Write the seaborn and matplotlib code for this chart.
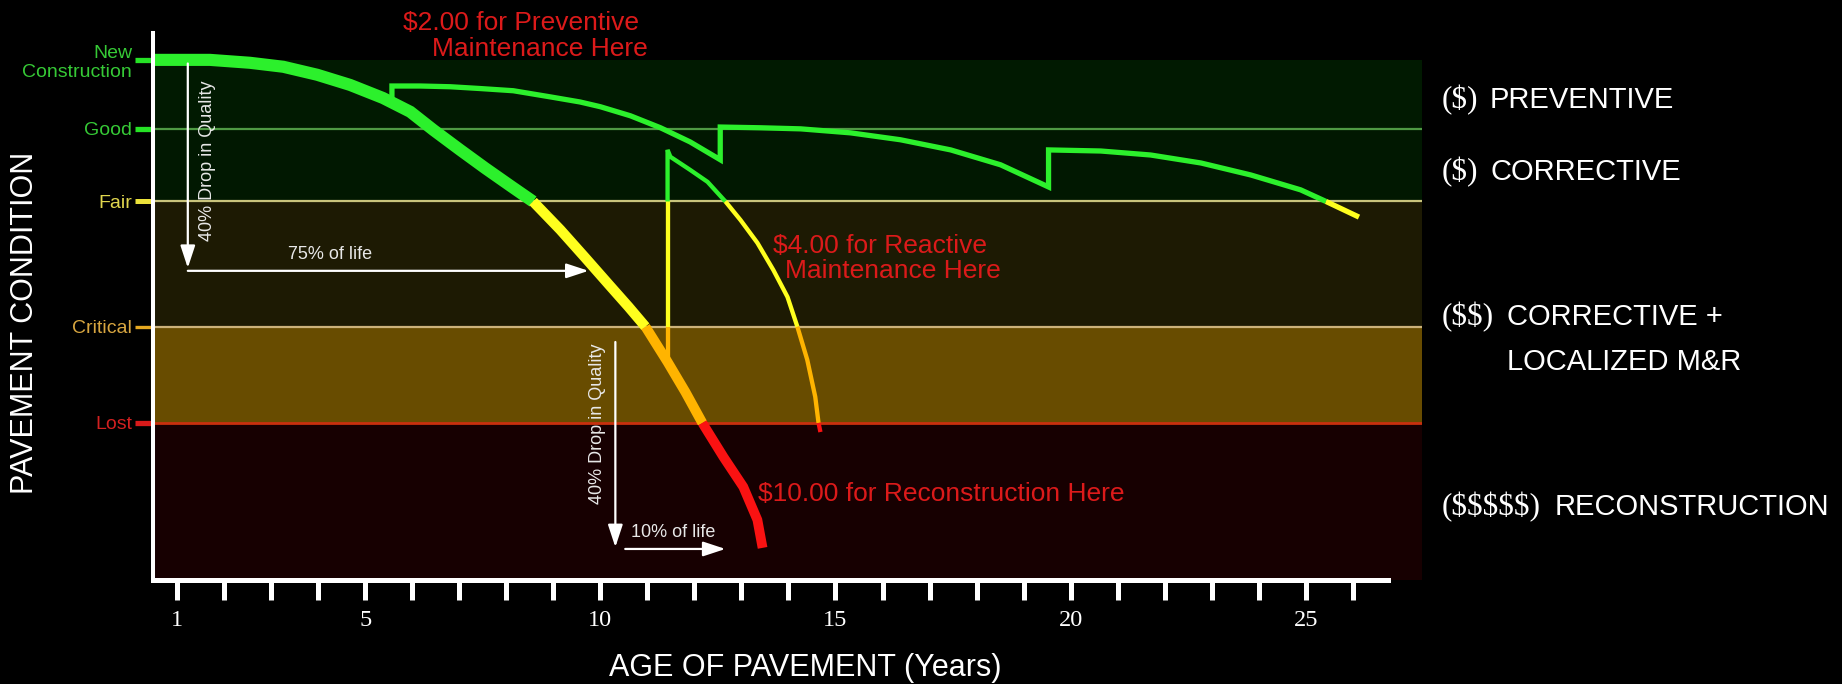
import matplotlib
matplotlib.use("Agg")
import matplotlib.pyplot as plt
import seaborn as sns

# ---------------------------------------------------------------- data
# Condition scale: New Construction = 100, Lost = 0
level_names = ["New\nConstruction", "Good", "Fair", "Critical", "Lost"]
level_values = [100, 81, 61, 26.5, 0]
level_label_colors = ["#36c936", "#36c936", "#e0d64e", "#d8a640", "#d22020"]
level_tick_colors = ["#26e226", "#26e226", "#ece23a", "#e6a820", "#d81a1a"]
level_tick_widths = [3.8, 3.8, 3.6, 2.4, 3.8]
level_line_colors = [None, "#4f9a44", "#c9c47c", "#ccb27a", "#c8300e"]

Y_MIN, Y_MAX = -43.25, 107.4
X_MIN, X_MAX = 0.49, 27.47
AXIS_END = 26.75

band_lows = [81, 61, 26.5, 0, Y_MIN]
band_highs = [100, 81, 61, 26.5, 0]
band_colors = ["#011a01", "#011801", "#1d1a03", "#684c00", "#170001"]

year_ticks = list(range(1, 27))
year_labels = [str(y) if y in (1, 5, 10, 15, 20, 25) else "" for y in year_ticks]

# Do-nothing deterioration curve
main_years = [0.5, 1.7, 2.55, 3.26, 3.98, 4.68, 5.38, 5.96, 6.45, 7.02, 7.55,
              8.09, 8.57, 9.15, 9.68, 10.21, 10.6, 10.96, 11.43, 11.81, 12.17,
              12.62, 13.04, 13.34, 13.45]
main_cond = [100, 100, 99.2, 98.1, 95.9, 93.1, 89.5, 85.7, 80.7, 75.2, 70.2,
             65.3, 61.0, 53.2, 45.5, 37.7, 32.0, 26.5, 16.8, 8.5, 0.0,
             -9.4, -17.6, -26.7, -34.4]

# Preventive treatments at roughly 5.5, 12.5 and 19.5 years
prev_years = [5.57, 5.57, 6.17, 6.81, 7.45, 8.15, 8.94, 9.57, 10.0, 10.64,
              11.28, 11.91, 12.55, 12.55, 13.4, 14.26, 15.32, 16.38, 17.45,
              18.51, 19.53, 19.53, 20.64, 21.7, 22.77, 23.83, 24.89, 25.43,
              26.13]
prev_cond = [88.3, 92.8, 92.8, 92.6, 92.1, 91.5, 89.8, 88.4, 87.1, 84.6,
             81.3, 77.4, 72.5, 81.5, 81.3, 81.0, 79.9, 78.0, 75.2,
             71.1, 65.0, 75.2, 74.9, 73.8, 71.6, 68.3, 64.2, 61.0,
             56.7]

# Reactive (corrective) treatment at about 11.4 years
react_years = [11.43, 11.43, 11.43, 11.43, 11.49, 11.91, 12.28, 12.66, 12.98,
               13.34, 13.68, 13.98, 14.19, 14.4, 14.57, 14.64, 14.68]
react_cond = [16.8, 26.5, 61.0, 75.2, 73.3, 69.7, 66.4, 61.0, 55.9,
              49.6, 42.1, 34.7, 26.5, 17.4, 7.2, 0.0, -2.5]

GREEN, YELLOW, ORANGE, RED = "#2cf02c", "#ffff1e", "#ffb400", "#fa1212"
TEXT_RED = "#dc1a1a"
SANS = ["Liberation Sans", "DejaVu Sans"]
SERIF = ["Liberation Serif", "DejaVu Serif"]

# ---------------------------------------------------------------- style
sns.set_theme(style="dark")
plt.rcParams["font.family"] = SANS
plt.rcParams["axes.facecolor"] = "black"
plt.rcParams["figure.facecolor"] = "black"
plt.rcParams["text.parse_math"] = False

W, H = 1842, 684
fig = plt.figure(figsize=(W / 100, H / 100), dpi=100)
ax = fig.add_axes([153 / W, (H - 580) / H, (1422 - 153) / W, (580 - 33) / H])
ax.set_facecolor("black")
ax.set_xlim(X_MIN, X_MAX)
ax.set_ylim(Y_MIN, Y_MAX)
ax.grid(False)


def px(x, y):
    """Pixel position (from top-left) to figure fraction."""
    return x / W, 1 - y / H


# condition bands and level lines
for lo, hi, c in zip(band_lows, band_highs, band_colors):
    ax.axhspan(lo, hi, color=c, lw=0, zorder=0)
for v, c in zip(level_values, level_line_colors):
    if c is not None:
        ax.axhline(v, color=c, lw=1.6 if v else 2.0, zorder=1)

ZONE_WIDTH_SCALE = {GREEN: 1.12, YELLOW: 0.95, ORANGE: 0.92, RED: 0.9}


def zone_color(values):
    m = sum(values) / len(values)
    if m > 61:
        return GREEN
    if m > 26.5:
        return YELLOW
    if m > 0:
        return ORANGE
    return RED


def draw_curve(years, cond, lw, z, taper=False):
    """Draw a curve coloured by condition zone, splitting at level crossings."""
    breaks = {61.0, 26.5, 0.0}
    seg_x, seg_y = [years[0]], [cond[0]]
    segments = []
    for x, y in zip(years[1:], cond[1:]):
        seg_x.append(x)
        seg_y.append(y)
        if y in breaks:
            segments.append((seg_x, seg_y))
            seg_x, seg_y = [x], [y]
    if len(seg_x) > 1:
        segments.append((seg_x, seg_y))
    for sx, sy in segments:
        col = zone_color(sy)
        w = lw * ZONE_WIDTH_SCALE[col] if taper else lw
        sns.lineplot(x=sx, y=sy, ax=ax, color=col, lw=w,
                     estimator=None, sort=False, legend=False, zorder=z,
                     solid_joinstyle="miter", solid_capstyle="butt")


draw_curve(main_years, main_cond, 7.8, 4, taper=True)
draw_curve(prev_years, prev_cond, 3.8, 5)
draw_curve(react_years, react_cond, 3.1, 5)

# ---------------------------------------------------------------- axes
for s in ("top", "right"):
    ax.spines[s].set_visible(False)
ax.spines["left"].set_color("white")
ax.spines["left"].set_linewidth(2.9)
ax.spines["bottom"].set_color("white")
ax.spines["bottom"].set_linewidth(3.6)
ax.spines["bottom"].set_bounds(X_MIN, AXIS_END)
ax.spines["left"].set_zorder(6)
ax.spines["bottom"].set_zorder(6)

ax.set_xticks(year_ticks, year_labels)
ax.tick_params(axis="x", direction="out", length=14.4, width=3.6,
               color="white", pad=7.5, labelsize=17.5, labelcolor="white",
               bottom=True)
for lab in ax.get_xticklabels():
    lab.set_fontfamily(SERIF)

ax.set_yticks(level_values, level_names)
ax.tick_params(axis="y", direction="out", length=13, width=3.6, pad=2,
               labelsize=14, left=True)
for t, c_lab, c_tick, w in zip(ax.yaxis.get_major_ticks(), level_label_colors,
                               level_tick_colors, level_tick_widths):
    t.tick1line.set_color(c_tick)
    t.tick1line.set_markeredgecolor(c_tick)
    t.tick1line.set_markerfacecolor(c_tick)
    t.tick1line.set_markeredgewidth(w)
    t.label1.set_color(c_lab)

ax.set_xlabel("")
ax.set_ylabel("")
fig.text(*px(805, 676), "AGE OF PAVEMENT (Years)", color="white",
         fontsize=22, ha="center", va="baseline")
fig.text(*px(25, 323), "PAVEMENT CONDITION", color="white", fontsize=22,
         ha="center", va="center", rotation=90)

# ---------------------------------------------------------------- arrows
arrow_kw = dict(arrowstyle="-|>,head_length=0.85,head_width=0.28",
                color="white", lw=1.6, mutation_scale=16,
                shrinkA=0, shrinkB=0)
ax.annotate("", xy=(1.23, 42.7), xytext=(1.23, 99.0), arrowprops=arrow_kw,
            zorder=7)
ax.annotate("", xy=(9.75, 41.9), xytext=(1.23, 41.9), arrowprops=arrow_kw,
            zorder=7)
ax.annotate("", xy=(10.32, -34.2), xytext=(10.32, 22.3), arrowprops=arrow_kw,
            zorder=7)
ax.annotate("", xy=(12.66, -34.7), xytext=(10.53, -34.7), arrowprops=arrow_kw,
            zorder=7)

note_kw = dict(color="#e8e8e8", fontsize=13, ha="center", va="center",
               zorder=7)
ax.text(1.64, 72.2, "40% Drop in Quality", rotation=90, **note_kw)
ax.text(4.25, 46.3, "75% of life", **note_kw)
ax.text(9.94, -0.3, "40% Drop in Quality", rotation=90, **note_kw)
ax.text(11.55, -30.3, "10% of life", **note_kw)

# ---------------------------------------------------------------- cost notes
red_kw = dict(color=TEXT_RED, fontsize=19, ha="left", va="baseline")
fig.text(*px(403, 29.5), "$2.00 for Preventive", **red_kw)
fig.text(*px(432, 56.5), "Maintenance Here", **red_kw)
fig.text(*px(773, 252.5), "$4.00 for Reactive", **red_kw)
fig.text(*px(785, 277.5), "Maintenance Here", **red_kw)
fig.text(*px(758, 501), "$10.00 for Reconstruction Here", **red_kw)

# ---------------------------------------------------------------- treatment key
key_cost = ["($)", "($)", "($$)", "", "($$$$$)"]
key_text = ["PREVENTIVE", "CORRECTIVE", "CORRECTIVE +", "LOCALIZED M&R",
            "RECONSTRUCTION"]
key_text_x = [1490, 1490, 1507, 1507, 1555]
key_base_y = [108, 180, 325, 370, 515]
for cost, txt, tx, by in zip(key_cost, key_text, key_text_x, key_base_y):
    if cost:
        fig.text(*px(1442, by), cost, color="white", fontsize=22.5,
                 family=SERIF, ha="left", va="baseline")
    fig.text(*px(tx, by), txt, color="white", fontsize=21, ha="left",
             va="baseline")

fig.savefig("out.png", dpi=100, facecolor="black")
